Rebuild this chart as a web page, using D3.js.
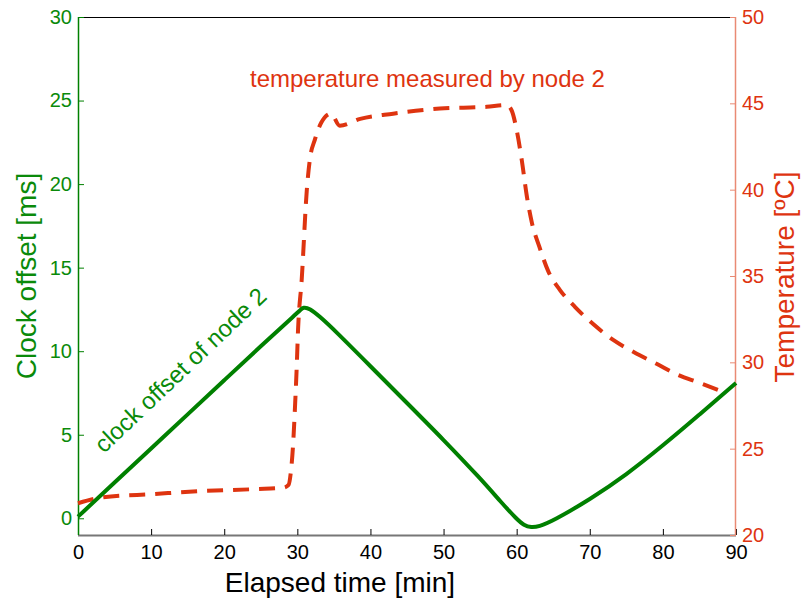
<!DOCTYPE html>
<html><head><meta charset="utf-8">
<script src="https://cdn.jsdelivr.net/npm/d3@7"></script>
<style>
body{margin:0;background:#fff;}
svg text{font-family:"Liberation Sans",Arial,Helvetica,sans-serif;}
</style></head>
<body><svg id="c" width="802" height="603"></svg>
<script>
// ---- data ----
const xTicks = [0,10,20,30,40,50,60,70,80,90];
const leftTicks = [0,5,10,15,20,25,30];
const rightTicks = [20,25,30,35,40,45,50];

const offsetTime = [0,5,10,15,20,25,30,30.4,30.8,31.7,33,35,40,45,50,55,58,60,61,62,63,65,70,75,80,85,90];
const offsetMs   = [0.1,2.14,4.18,6.22,8.26,10.3,12.3,12.45,12.65,12.56,12.1,11.3,9.1,6.9,4.7,2.4,0.9,-0.05,-0.42,-0.55,-0.5,-0.15,1.12,2.6,4.35,6.2,8.1];

const tempTime = [0,3.4,10.3,17.1,24.4,28.1,28.8,29.1,29.4,29.7,29.9,30.1,30.6,31.3,31.7,32.4,33.3,34.6,35.8,38.6,43.1,49.5,55.9,58.6,59.3,60.0,60.7,61.4,62.1,63.1,64.3,65.9,68.0,70.5,73.2,76.0,79.2,81.9,85.1,88.8];
const tempC    = [21.84,22.18,22.37,22.55,22.66,22.74,22.9,23.6,25.1,27.6,29.55,31.9,34.8,40.0,41.7,42.9,43.9,44.4,43.7,44.1,44.4,44.7,44.8,44.9,44.6,43.45,41.7,39.6,38.05,36.7,35.3,34.2,33.2,32.2,31.3,30.6,29.9,29.3,28.8,28.2];

// ---- layout ----
const W=802,H=603, L=78, R=736, T=17, B=535;
const green="#0a8a0a", greenLine="#008000", red="#de3410", salmon="#e98a74";
const svg=d3.select("#c");
const x=d3.scaleLinear().domain([0,90]).range([L,R]);
const yL=d3.scaleLinear().domain([-1,30]).range([B,T]);
const yR=d3.scaleLinear().domain([20,50]).range([B,T]);

// top border
svg.append("line").attr("x1",L).attr("x2",R).attr("y1",T+0.5).attr("y2",T+0.5).attr("stroke","#000").attr("stroke-width",1);

// bottom axis
const gx=svg.append("g").attr("transform",`translate(0,${B})`)
  .call(d3.axisBottom(x).tickValues(xTicks).tickSize(-6).tickPadding(10).tickFormat(d3.format("d")));
gx.select(".domain").attr("stroke","#777").attr("stroke-width",2).attr("d",`M${L},0.5H${R}`);
gx.selectAll(".tick line").attr("stroke","#000");
gx.selectAll("text").attr("font-size",20).attr("fill","#000");

// left axis
const gl=svg.append("g").attr("transform",`translate(${L},0)`)
  .call(d3.axisLeft(yL).tickValues(leftTicks).tickSize(-6).tickPadding(6).tickFormat(d3.format("d")));
gl.select(".domain").attr("stroke",greenLine).attr("stroke-width",1.5).attr("d",`M0.5,${T}V${B}`);
gl.selectAll(".tick line").attr("stroke",greenLine);
gl.selectAll("text").attr("font-size",20).attr("fill",green);

// right axis
const gr=svg.append("g").attr("transform",`translate(${R},0)`)
  .call(d3.axisRight(yR).tickValues(rightTicks).tickSize(-6).tickPadding(6).tickFormat(d3.format("d")));
gr.select(".domain").attr("stroke",salmon).attr("stroke-width",1.5).attr("d",`M-0.5,${T}V${B}`);
gr.selectAll(".tick line").attr("stroke",salmon);
gr.selectAll("text").attr("font-size",20).attr("fill",red);

// lines
const offData=offsetTime.map((t,i)=>[t,offsetMs[i]]);
const tmpData=tempTime.map((t,i)=>[t,tempC[i]]);
svg.append("path").datum(tmpData)
  .attr("d",d3.line().x(d=>x(d[0])).y(d=>yR(d[1])).curve(d3.curveMonotoneX))
  .attr("fill","none").attr("stroke",red).attr("stroke-width",4).attr("stroke-dasharray","16,10");
svg.append("path").datum(offData)
  .attr("d",d3.line().x(d=>x(d[0])).y(d=>yL(d[1])).curve(d3.curveBasis))
  .attr("fill","none").attr("stroke",greenLine).attr("stroke-width",4);

// axis titles
svg.append("text").attr("x",340).attr("y",592).attr("text-anchor","middle")
  .attr("font-size",28).attr("fill","#000").text("Elapsed time [min]");
svg.append("text").attr("transform",`translate(36,${276}) rotate(-90)`).attr("text-anchor","middle")
  .attr("font-size",28).attr("fill",green).text("Clock offset [ms]");
svg.append("text").attr("transform",`translate(794,${277}) rotate(-90)`).attr("text-anchor","middle")
  .attr("font-size",28).attr("fill",red).text("Temperature [ºC]");

// annotations
svg.append("text").attr("x",250).attr("y",87).attr("font-size",24).attr("fill",red)
  .text("temperature measured by node 2");
svg.append("text").attr("transform","translate(104,454) rotate(-43.5)")
  .attr("font-size",24).attr("fill",green).text("clock offset of node 2");
</script></body></html>
